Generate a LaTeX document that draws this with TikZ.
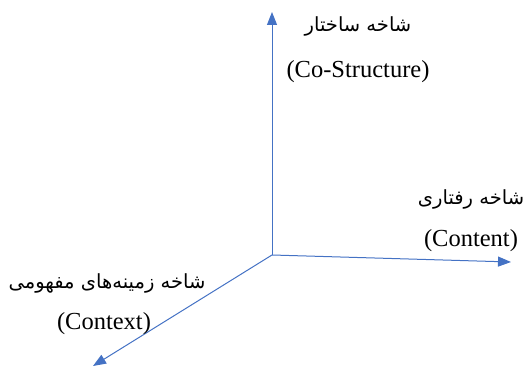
\documentclass[tikz,border=0pt]{standalone}
\usepackage{fontspec}
\setmainfont{Liberation Serif}
\newfontfamily\arabicfont[Script=Arabic]{DejaVu Sans}
\TeXXeTstate=1
\usetikzlibrary{arrows.meta}
\definecolor{axisblue}{HTML}{4472C4}
\tikzset{
  axis/.style={draw=axisblue, line width=1pt, -{Triangle[width=10pt,length=13pt]}},
  fa/.style={font=\arabicfont\fontsize{19.5}{23}\selectfont, inner sep=0pt},
  en/.style={font=\fontsize{24.5}{29}\selectfont, inner sep=0pt}
}
\begin{document}
\begin{tikzpicture}[x=1pt,y=1pt]
\useasboundingbox (0,0) rectangle (527,366);
\coordinate (O) at (272,111);
\coordinate (T) at (272,354);
\coordinate (R) at (511,104);
\coordinate (D) at (93,0);
\draw[axis] (O) -- (T);
\draw[axis] (O) -- (R);
\draw[axis] (O) -- (D);
\node[fa] (t1) at (358,340) {\beginR شاخه ساختار\endR};
\node[en] (t2) at (358,294) {(Co-Structure)};
\node[fa] (r1) at (471,167) {\beginR شاخه رفتاری\endR};
\node[en] (r2) at (471,125) {(Content)};
\node[fa] (d1) at (107,83) {\beginR شاخه زمینه‌های مفهومی\endR};
\node[en] (d2) at (104,42) {(Context)};
\end{tikzpicture}
\end{document}
